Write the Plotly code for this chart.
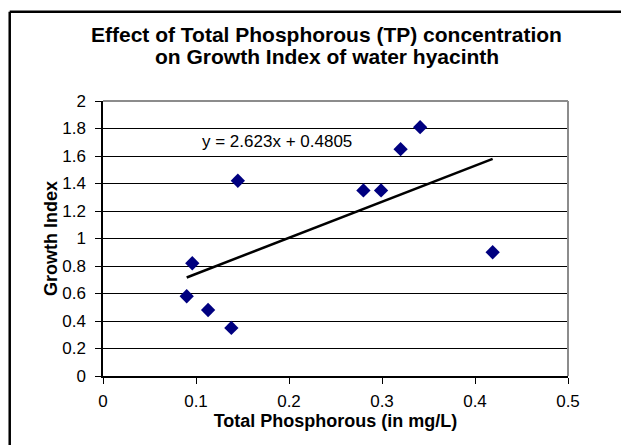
import plotly.graph_objects as go
import numpy as np

# total phosphorous (mg/L) vs growth index
tp = [0.090, 0.096, 0.113, 0.138, 0.145, 0.280, 0.299, 0.320, 0.341, 0.419]
growth = [0.58, 0.82, 0.48, 0.35, 1.42, 1.35, 1.35, 1.65, 1.81, 0.90]

# linear trendline shown on the chart
slope = 2.623
intercept = 0.4805

x_ticks = [0, 0.1, 0.2, 0.3, 0.4, 0.5]
y_ticks = [0, 0.2, 0.4, 0.6, 0.8, 1, 1.2, 1.4, 1.6, 1.8, 2]

title_lines = ["Effect of Total Phosphorous (TP) concentration",
               "on Growth Index of water hyacinth"]

font = "Arial, Liberation Sans, sans-serif"

trend_x = np.array([min(tp), max(tp)])
trend_y = slope * trend_x + intercept

fig = go.Figure()
fig.add_trace(go.Scatter(
    x=tp, y=growth, mode="markers",
    marker=dict(symbol="diamond", size=11, color="#000080"),
    showlegend=False
))
fig.add_trace(go.Scatter(
    x=trend_x, y=trend_y, mode="lines",
    line=dict(color="black", width=2.5),
    showlegend=False
))

# title drawn as two lines to get the tight Excel line spacing
notes = []
for txt, yy in zip(title_lines, [1.242, 1.162]):
    notes.append(dict(text="<b>" + txt + "</b>", x=0.481, y=yy,
                      xref="paper", yref="paper", xanchor="center", yanchor="middle",
                      showarrow=False, font=dict(size=21)))
notes.append(dict(
    text=f"y = {slope}x + {intercept}",
    x=0.1047, y=1.704, xref="x", yref="y",
    xanchor="left", yanchor="middle",
    showarrow=False, font=dict(size=17)
))

frame = dict(color="black", width=2.5)
fig.update_layout(
    width=629, height=445,
    margin=dict(l=95, r=69, t=93, b=77),
    paper_bgcolor="white", plot_bgcolor="white",
    font=dict(family=font, color="black", size=17),
    annotations=notes,
    shapes=[
        # grey plot-area border on top and right
        dict(type="line", xref="paper", yref="paper", x0=0, x1=1, y0=1, y1=1,
             line=dict(color="#8c8c8c", width=2), layer="above"),
        dict(type="line", xref="paper", yref="paper", x0=1, x1=1, y0=0, y1=1,
             line=dict(color="#8c8c8c", width=2), layer="above"),
        # outer chart frame (top and left edges are the only ones in view)
        dict(type="line", xref="paper", yref="paper",
             x0=-0.2006, x1=1.3, y0=1.325, y1=1.325, line=frame),
        dict(type="line", xref="paper", yref="paper",
             x0=-0.2006, x1=-0.2006, y0=-0.4, y1=1.325, line=frame),
    ],
)

fig.update_xaxes(
    range=[0, 0.5], tickvals=x_ticks,
    showgrid=False, zeroline=False,
    showline=True, linecolor="black", linewidth=1.5,
    ticks="outside", ticklen=6, tickcolor="black",
    tickfont=dict(size=17), ticklabelstandoff=3,
    title=dict(text="<b>Total Phosphorous (in mg/L)</b>", font=dict(size=18), standoff=4),
)
fig.update_yaxes(
    range=[0, 2], tickvals=y_ticks,
    showgrid=True, gridcolor="black", gridwidth=1.3, zeroline=False,
    showline=True, linecolor="black", linewidth=1.5,
    ticks="outside", ticklen=6, tickcolor="black",
    tickfont=dict(size=17), ticklabelstandoff=6,
    title=dict(text="<b>Growth Index</b>", font=dict(size=18), standoff=0),
)

fig.write_html("out.html")
